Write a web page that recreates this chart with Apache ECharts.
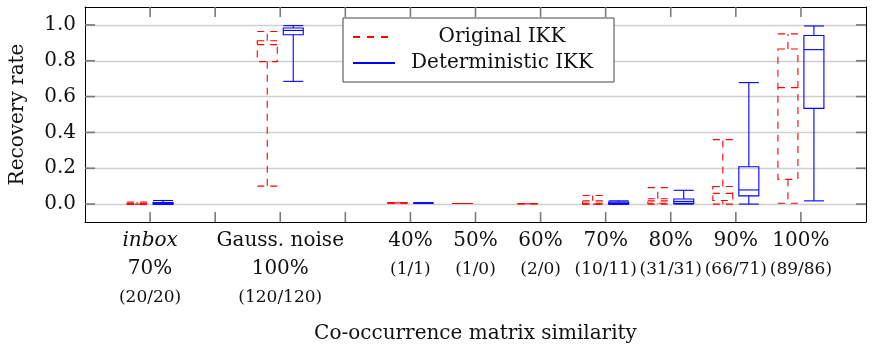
<!DOCTYPE html>
<html><head><meta charset="utf-8">
<script src="https://cdn.jsdelivr.net/npm/echarts@6/dist/echarts.min.js"></script>
<style>html,body{margin:0;padding:0;background:#fff}#c{width:872px;height:349px}</style>
</head><body><div id="c"></div>
<script>
// Category positions on the x axis and their labels
const catPos = [1, 3, 5, 6, 7, 8, 9, 10, 11];
const catTitle = ['inbox', 'Gauss. noise', '40%', '50%', '60%', '70%', '80%', '90%', '100%'];
const catSub = ['70%', '100%', '', '', '', '', '', '', ''];
const catCounts = ['(20/20)', '(120/120)', '(1/1)', '(1/0)', '(2/0)', '(10/11)', '(31/31)', '(66/71)', '(89/86)'];
const xTicks = [1, 2, 3, 4, 5, 6, 7, 8, 9, 10, 11];
const yTicks = [0, 0.2, 0.4, 0.6, 0.8, 1.0];

// Box statistics per category: [lower whisker, Q1, median, Q3, upper whisker]; null = no samples
const originalIKK = [
  [0, 0, 0, 0.004, 0.012],
  [0.10, 0.795, 0.89, 0.912, 0.963],
  [0.007, 0.007, 0.007, 0.007, 0.007],
  [0.003, 0.003, 0.003, 0.003, 0.003],
  [0.002, 0.002, 0.002, 0.002, 0.002],
  [0, 0, 0.005, 0.018, 0.048],
  [0, 0.005, 0.018, 0.03, 0.092],
  [0, 0.02, 0.06, 0.098, 0.36],
  [0.005, 0.138, 0.65, 0.866, 0.95]
];
const deterministicIKK = [
  [0, 0, 0, 0.008, 0.02],
  [0.685, 0.945, 0.969, 0.983, 0.996],
  [0.006, 0.006, 0.006, 0.006, 0.006],
  null,
  null,
  [0, 0, 0.003, 0.011, 0.018],
  [0, 0.004, 0.015, 0.028, 0.077],
  [0, 0.046, 0.079, 0.208, 0.678],
  [0.018, 0.534, 0.862, 0.941, 0.994]
];

const FONT = 'DejaVu Serif';
const RED = '#ff0000', BLUE = '#0000ff';
const TICK = '#7a7a7a';

function toData(arr) {
  return arr.map((b, i) => b ? [catPos[i]].concat(b) : null).filter(Boolean);
}

function makeRender(offset, color, dash) {
  return function (params, api) {
    const x = api.value(0);
    const p = [1, 2, 3, 4, 5].map(i => api.coord([x, api.value(i)]));
    const cx = p[0][0] + offset;
    const hw = 10;
    const st = () => ({ stroke: color, lineWidth: 1.1, fill: 'none', lineDash: dash });
    const yMin = p[0][1], yQ1 = p[1][1], yMed = p[2][1], yQ3 = p[3][1], yMax = p[4][1];
    return {
      type: 'group', children: [
        { type: 'line', shape: { x1: cx, y1: yQ1, x2: cx, y2: yMin }, style: st() },
        { type: 'line', shape: { x1: cx - hw, y1: yMin, x2: cx + hw, y2: yMin }, style: st() },
        { type: 'line', shape: { x1: cx, y1: yQ3, x2: cx, y2: yMax }, style: st() },
        { type: 'line', shape: { x1: cx - hw, y1: yMax, x2: cx + hw, y2: yMax }, style: st() },
        { type: 'rect', shape: { x: cx - hw, y: yQ3, width: 2 * hw, height: yQ1 - yQ3 }, style: st() },
        { type: 'line', shape: { x1: cx - hw, y1: yMed, x2: cx + hw, y2: yMed }, style: st() }
      ]
    };
  };
}

// Inward tick marks on all four sides of the plot frame, positioned through the axes' scales.
// Data item: [xValue, kind (0 = x tick, 1 = y tick), yValue]
function renderTicks(params, api) {
  const kind = api.value(1);
  const cs = params.coordSys;
  const L = 10;
  const st = () => ({ stroke: TICK, lineWidth: 1.6, fill: 'none' });
  if (kind === 0) {
    const px = api.coord([api.value(0), 0])[0];
    const top = cs.y, bot = cs.y + cs.height;
    return { type: 'group', children: [
      { type: 'line', shape: { x1: px, y1: top, x2: px, y2: top + L }, style: st() },
      { type: 'line', shape: { x1: px, y1: bot - L, x2: px, y2: bot }, style: st() }
    ] };
  }
  const py = api.coord([0, api.value(2)])[1];
  const left = cs.x, right = cs.x + cs.width;
  return { type: 'group', children: [
    { type: 'line', shape: { x1: left, y1: py, x2: left + L, y2: py }, style: st() },
    { type: 'line', shape: { x1: right - L, y1: py, x2: right, y2: py }, style: st() }
  ] };
}

const tickData = xTicks.map(v => [v, 0, 0]).concat(yTicks.map(v => [0, 1, v]));

const chart = echarts.init(document.getElementById('c'), null, { renderer: 'canvas' });

chart.setOption({
  animation: false,
  backgroundColor: '#fff',
  textStyle: { fontFamily: FONT },
  grid: { left: 83, right: 6, top: 7, bottom: 125, show: false },
  legend: {
    data: ['Original IKK', 'Deterministic IKK'],
    orient: 'vertical',
    left: 343, top: 18,
    padding: [9, 10, 9, 9],
    itemWidth: 42, itemHeight: 14, itemGap: 6,
    backgroundColor: '#fff',
    borderColor: '#444', borderWidth: 1, borderRadius: 0,
    itemStyle: { color: 'rgba(0,0,0,0)', borderWidth: 0, opacity: 0 },
    formatter: name => '{a|' + name + '}',
    textStyle: {
      rich: { a: { width: 204, align: 'center', fontFamily: FONT, fontSize: 20, lineHeight: 24, color: '#111' } }
    },
    z: 10
  },
  xAxis: [{
    type: 'value', min: 0, max: 12, interval: 1,
    name: 'Co-occurrence matrix similarity', nameLocation: 'middle', nameGap: 102,
    nameTextStyle: { fontFamily: FONT, fontSize: 20, color: '#111' },
    axisLine: { show: true, onZero: false, lineStyle: { color: '#000', width: 1 } },
    axisTick: { show: false },
    splitLine: { show: false },
    axisLabel: {
      customValues: catPos, margin: 5,
      formatter: function (v) {
        const i = catPos.indexOf(v);
        if (i < 0) return '';
        const first = i === 0 ? '{it|' + catTitle[i] + '}' : '{b|' + catTitle[i] + '}';
        let s = first;
        if (catSub[i]) s += '\n{b|' + catSub[i] + '}';
        s += '\n{s|' + catCounts[i] + '}';
        return s;
      },
      rich: {
        b: { fontFamily: FONT, fontSize: 20, lineHeight: 28, color: '#111' },
        it: { fontFamily: FONT, fontSize: 20, fontStyle: 'italic', lineHeight: 28, color: '#111' },
        s: { fontFamily: FONT, fontSize: 17, lineHeight: 30, color: '#111' }
      }
    }
  }, {
    type: 'value', position: 'top', min: 0, max: 12,
    axisLine: { show: true, onZero: false, lineStyle: { color: '#000', width: 1 } },
    axisTick: { show: false }, axisLabel: { show: false }, splitLine: { show: false }
  }],
  yAxis: [{
    type: 'value', min: -0.1, max: 1.1,
    name: 'Recovery rate', nameLocation: 'middle', nameGap: 57,
    nameTextStyle: { fontFamily: FONT, fontSize: 20, color: '#111' },
    axisLine: { show: true, onZero: false, lineStyle: { color: '#000', width: 1 } },
    axisTick: { show: false, customValues: yTicks },
    axisLabel: {
      customValues: yTicks, margin: 9,
      formatter: v => Number(v).toFixed(1),
      fontFamily: FONT, fontSize: 20, color: '#111'
    },
    splitLine: { show: true, lineStyle: { color: '#cfcfcf', width: 1.3 } }
  }, {
    type: 'value', position: 'right', min: -0.1, max: 1.1,
    axisLine: { show: true, onZero: false, lineStyle: { color: '#000', width: 1 } },
    axisTick: { show: false }, axisLabel: { show: false }, splitLine: { show: false }
  }],
  series: [
    { type: 'line', name: 'Original IKK', data: [], symbol: 'none', lineStyle: { color: RED, width: 1.2, type: [7, 7] }, itemStyle: { color: RED } },
    { type: 'line', name: 'Deterministic IKK', data: [], symbol: 'none', lineStyle: { color: BLUE, width: 1.2, type: 'solid' }, itemStyle: { color: BLUE } },
    {
      type: 'custom', silent: true, clip: false, z: 5, zlevel: 0,
      xAxisIndex: 0, yAxisIndex: 0,
      renderItem: renderTicks,
      encode: { x: 0, y: 2 },
      data: tickData
    },
    {
      type: 'custom', name: 'Original IKK', xAxisIndex: 0, yAxisIndex: 0,
      renderItem: makeRender(-13, RED, [7, 6]),
      encode: { x: 0, y: [1, 2, 3, 4, 5] },
      data: toData(originalIKK), itemStyle: { color: RED }, z: 3
    },
    {
      type: 'custom', name: 'Deterministic IKK', xAxisIndex: 0, yAxisIndex: 0,
      renderItem: makeRender(13, BLUE, null),
      encode: { x: 0, y: [1, 2, 3, 4, 5] },
      data: toData(deterministicIKK), itemStyle: { color: BLUE }, z: 3
    }
  ]
});
</script>
</body></html>
